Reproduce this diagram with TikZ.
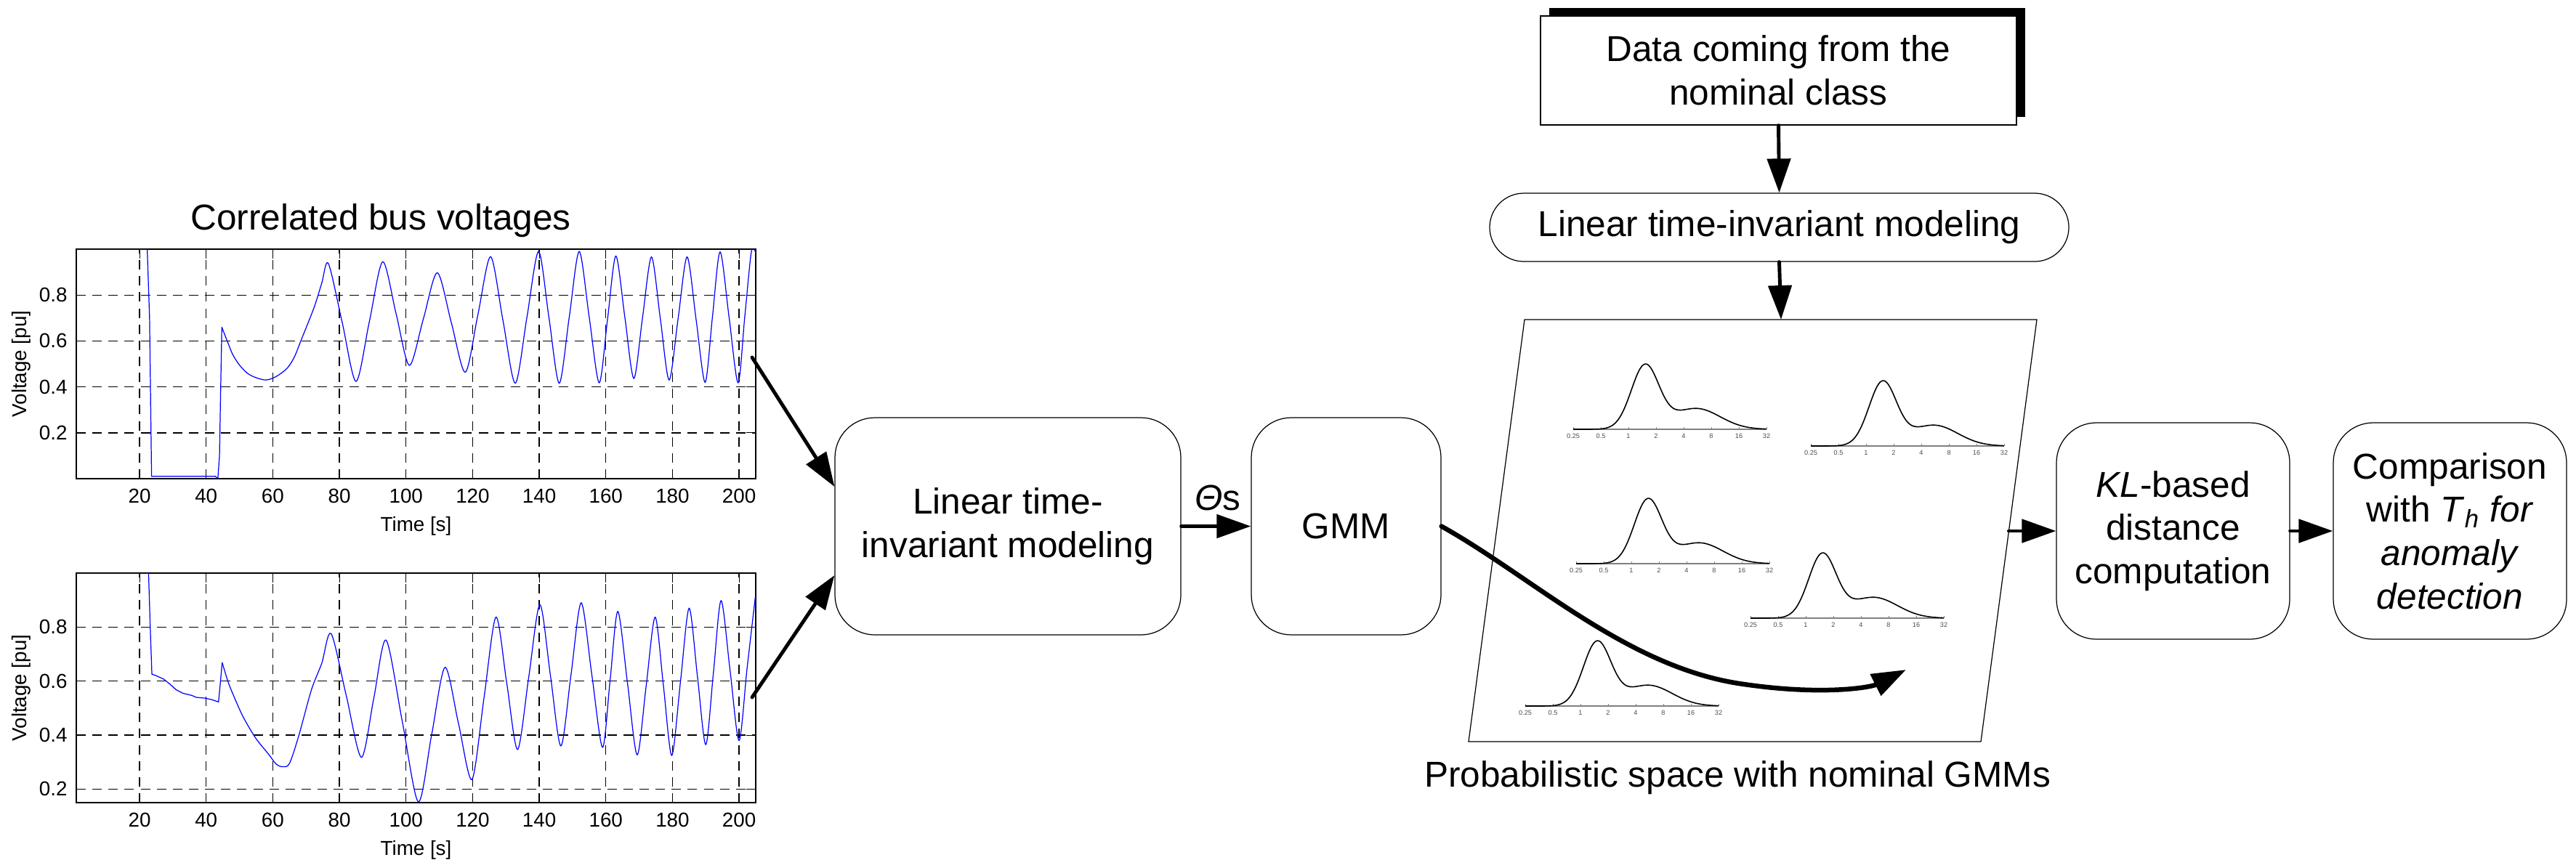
\documentclass[tikz,border=0pt]{standalone}
\usepackage{fontspec}
\setmainfont{Liberation Sans}
\usepackage{tikz}
\usetikzlibrary{positioning,arrows.meta,shadows}
\usepackage{pgfplots}
\pgfplotsset{compat=1.18}
\pgfplotsset{volt/.style={scale only axis, width=9.35cm, height=3.16cm,
    xmin=1, xmax=205,
    xtick={20,40,...,200}, xticklabels={20,40,60,80,100,120,140,160,180,200},
    ytick={0.2,0.4,0.6,0.8}, yticklabels={0.2,0.4,0.6,0.8},
    grid=major, grid style={black, line width=0.4pt, dash pattern=on 3.7pt off 2.6pt},
    major tick length=0.13cm, tick style={black, line width=0.3pt},
    axis line style={line width=0.45pt},
    tick label style={font=\fontsize{7.9}{9}\selectfont},
    label style={font=\fontsize{7.9}{9}\selectfont},
    xticklabel style={anchor=center, yshift=-0.24cm},
    xlabel={Time [s]}, ylabel={Voltage [pu]},
    xlabel style={at={(axis description cs:0.5,-0.2057)}, anchor=center},
    ylabel style={at={(axis description cs:-0.0813,0.5)}, anchor=center}}}

\begin{document}
\begin{tikzpicture}[
    blk/.style={draw, rounded corners=0.55cm, line width=0.35pt, align=center,
                font=\fontsize{14.1}{17}\selectfont, inner sep=2pt},
    txt/.style={font=\fontsize{14.1}{17}\selectfont},
    ar/.style={-{Triangle[length=0.47cm,width=0.32cm]}, line width=1.4pt, line cap=round},
    gmline/.style={line width=0.45pt},
    tk/.style={font=\fontsize{2.6}{3}\selectfont, text=gray!60!black, inner sep=0pt},
]
\useasboundingbox (0,0) rectangle (35.45,-11.94);

% === Left: two voltage plots ===
\node[txt, anchor=base] at (5.24,-3.16) (ttl) {Correlated bus voltages};

\begin{axis}[volt, at={(1.05cm,-6.59cm)}, anchor=south west, ymin=0, ymax=1]
\addplot[blue, line width=0.35pt] coordinates {(1,1) (22.3,1) (23.0,0.7) (23.6,0.01)
    (42.8,0.01) (43.5,0) (44.0,0.1) (44.3,0.35) (44.7,0.66)};
\addplot[blue, line width=0.35pt, smooth] coordinates {(44.7,0.66) (46.5,0.593) (48,0.54)
    (50.1,0.493) (52.5,0.458) (55,0.44) (58,0.43) (61,0.445) (64.3,0.481) (66.5,0.531)
    (68.6,0.607) (72.4,0.746) (74.7,0.852) (76.7,0.937) (80.85,0.68) (85,0.424)
    (89,0.685) (93,0.945) (97,0.72) (101,0.494) (105.2,0.696) (109.4,0.897)
    (113.6,0.68) (117.8,0.464) (121.6,0.716) (125.4,0.967) (129.1,0.69) (132.8,0.416)
    (136.3,0.703) (139.8,0.99) (142.9,0.703) (146,0.416) (149,0.703) (152,0.99)
    (155,0.704) (158,0.418) (160.5,0.694) (163,0.97) (165.7,0.704) (168.4,0.437)
    (171,0.70) (173.7,0.966) (176.35,0.698) (179,0.43) (181.7,0.698) (184.4,0.966)
    (187.1,0.693) (189.8,0.42) (192,0.704) (194.3,0.988) (197,0.703) (199.7,0.418)
    (201.7,0.704) (203.7,0.99) (205,0.983)};
\end{axis}

\begin{axis}[volt, at={(1.05cm,-11.05cm)}, anchor=south west, ymin=0.15, ymax=1]
\addplot[blue, line width=0.35pt] coordinates {(1,1) (22.7,1) (23.2,0.8) (23.7,0.626)
    (25,0.62) (27.3,0.607) (29,0.59) (31,0.568) (33,0.555) (35.7,0.547) (37,0.54)
    (39.6,0.537) (41.5,0.532) (43.7,0.523) (44.3,0.6) (44.8,0.669)};
\addplot[blue, line width=0.35pt, smooth] coordinates {(44.8,0.669) (46.5,0.60) (48,0.553)
    (51,0.47) (54.8,0.39) (58.7,0.33) (61,0.293) (63,0.283) (65,0.295) (67.8,0.398)
    (71.6,0.568) (74.7,0.666) (77.5,0.776) (82.05,0.547) (86.6,0.318) (90.3,0.535)
    (94,0.752) (98.85,0.4525) (103.7,0.153) (107.7,0.402) (111.7,0.651) (115.75,0.4435)
    (119.8,0.236) (123.4,0.5365) (127,0.837) (130.25,0.592) (133.5,0.347) (136.85,0.615)
    (140.2,0.883) (143.35,0.6215) (146.5,0.36) (149.55,0.625) (152.6,0.89) (155.8,0.6225)
    (159,0.355) (161.3,0.6065) (163.6,0.858) (166.5,0.5925) (169.4,0.327) (172.1,0.582)
    (174.8,0.837) (177.3,0.581) (179.8,0.325) (182.4,0.5975) (185,0.87) (187.5,0.6175)
    (190,0.365) (192.3,0.6315) (194.6,0.898) (197.3,0.639) (200,0.38) (202.4,0.647)
    (204.9,0.914)};
\end{axis}

% === Middle row: modeling and GMM ===
\node[blk, minimum width=4.76cm, minimum height=2.99cm] at (13.87,-7.245) (lti) {Linear time-\\invariant modeling};
\node[blk, minimum width=2.61cm, minimum height=2.99cm] at (18.525,-7.245) (gmm) {GMM};
\node[txt] at (16.76,-6.85) (theta) {\textit{Θ}s};

% === Top: nominal data and its modeling ===
\node[txt, draw, fill=white, line width=0.35pt, align=center, minimum width=6.55cm, minimum height=1.50cm,
      drop shadow={shadow xshift=0.12cm, shadow yshift=0.11cm, fill=black, opacity=1}]
      at (24.475,-0.97) (data) {Data coming from the\\nominal class};
\node[blk, rounded corners=0.47cm, minimum width=7.97cm, minimum height=0.94cm] at (24.485,-3.13) (lti2) {Linear time-invariant modeling};

% === Probabilistic space ===
\coordinate (sp1) at (20.98,-4.40);
\coordinate (sp2) at (28.03,-4.40);
\coordinate (sp3) at (27.26,-10.21);
\coordinate (sp4) at (20.21,-10.21);
\coordinate (sptop) at (24.51,-4.40);
\coordinate (spright) at (27.644,-7.31);
\coordinate (gmmend) at (26.23,-9.22);
\draw[line width=0.35pt] (sp1) -- (sp2) -- (sp3) -- (sp4) -- cycle;
\node[txt, anchor=base] at (23.91,-10.83) (spcap) {Probabilistic space with nominal GMMs};

% nominal GMM densities
\foreach \gx/\gy [count=\k] in {21.65/-5.91, 24.92/-6.14, 21.69/-7.76, 24.09/-8.51, 20.99/-9.72}{
  \begin{scope}[shift={(\gx,\gy)}]
    \draw[gray, line width=0.3pt] (0,0) -- (2.66,0);
    \foreach \lab [count=\i from 0] in {0.25,0.5,1,2,4,8,16,32}{
      \draw[gray, line width=0.3pt] (0.38*\i,0) -- ++(0,0.03);
      \node[tk] at (0.38*\i,-0.09) (d\k-\i) {\lab};
    }
    \draw[gmline] plot[domain=0:7, samples=71, smooth]
      ({0.38*\x},{0.87*(exp(max(-9,-((\x-2.6)^2)/0.5))+0.33*exp(max(-9,-((\x-4.45)^2)/1.5)))});
  \end{scope}
}

% === Right: distance and decision ===
\node[blk, minimum width=3.21cm, minimum height=2.98cm] at (29.905,-7.31) (kl) {\textit{KL}-based\\distance\\computation};
\node[blk, minimum width=3.21cm, minimum height=2.98cm] at (33.715,-7.31) (cmp)
     {Comparison\\with \textit{T}\textsubscript{\textit{h}} \textit{for}\\\textit{anomaly}\\\textit{detection}};

% --- Arrows ---
\coordinate (v1) at (10.35,-4.92);
\coordinate (v2) at (10.35,-9.60);
\draw[ar] (v1) -- ([yshift=0.545cm]lti.west);
\draw[ar] (v2) -- ([yshift=-0.675cm]lti.west);
\draw[ar] (lti) -- (gmm);
\draw[ar, line width=1.85pt] (gmm.east) .. controls (21.10,-7.95) and (22.40,-9.20) .. (24.00,-9.42)
     .. controls (25.10,-9.58) and (25.75,-9.46) .. (gmmend);
\draw[ar] (data.south) -- (lti2.north);
\draw[ar] (lti2.south) -- (sptop);
\draw[ar] (spright) -- (kl.west);
\draw[ar] (kl) -- (cmp);

\end{tikzpicture}
\end{document}
